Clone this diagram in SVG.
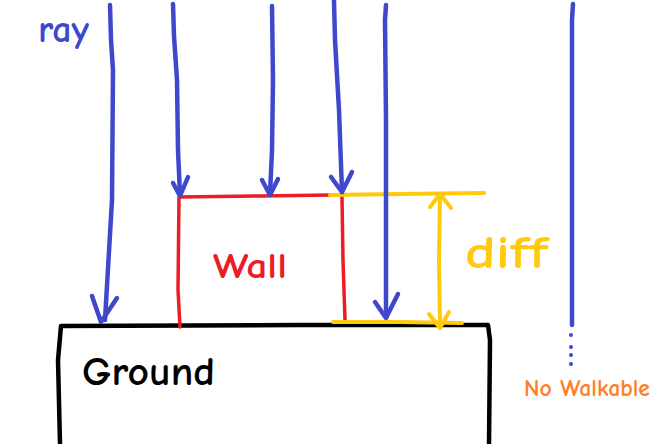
<svg xmlns="http://www.w3.org/2000/svg" width="660" height="444" viewBox="0 0 660 444">
<style>
.ray{fill:none;stroke:#3f48cc;stroke-width:4.5;stroke-linecap:round;stroke-linejoin:round}
.red{fill:none;stroke:#ec1c24;stroke-width:3.5;stroke-linecap:round;stroke-linejoin:round}
.yel{fill:none;stroke:#ffc90e;stroke-width:4;stroke-linecap:round;stroke-linejoin:round}
.blk{fill:none;stroke:#000;stroke-width:4.5;stroke-linecap:round;stroke-linejoin:round}
.lbl{font-family:"Comic Neue","Liberation Sans",sans-serif;font-weight:bold}
</style>
<rect width="660" height="444" fill="#fff"/>
<g id="ground">
<path class="blk" d="M60,444 L58,360 L61,326 L300,325 L488,325 L490,340 L489,444"/>
<text class="lbl" x="82" y="385" font-size="40" fill="#000" textLength="133" lengthAdjust="spacingAndGlyphs">Ground</text>
</g>
<g id="wall">
<path class="red" d="M180,327 L178,290 L179,197 L260,196 L332,195"/>
<path class="red" d="M342,197 L343,260 L345,320"/>
<text class="lbl" x="213" y="278" font-size="36" fill="#ec1c24" textLength="74" lengthAdjust="spacingAndGlyphs">Wall</text>
</g>
<g id="diff">
<path class="yel" d="M330,195 L400,194 L484,193"/>
<path class="yel" d="M333,322 L400,322 L462,323" stroke-width="5"/>
<path class="yel" d="M440,195 L439,260 L440,327"/>
<path class="yel" d="M430,207 L440,194 L451,208"/>
<path class="yel" d="M429,314 L440,328 L449,312"/>
<text class="lbl" x="465" y="268" font-size="46" fill="#ffc90e" textLength="83" lengthAdjust="spacingAndGlyphs">diff</text>
</g>
<g id="labels">
<text class="lbl" x="38" y="42" font-size="38" fill="#3f48cc">ray</text>
<text class="lbl" x="524" y="396" font-size="25" fill="#ff7f27" textLength="126" lengthAdjust="spacingAndGlyphs">No Walkable</text>
</g>
<g id="connectors">
<path class="ray" d="M110,5 L111,40 L113,70 L112,200 L105,320"/>
<path class="ray" d="M92,296 L101,322 L117,298"/>
<path class="ray" d="M173,4 L174,36 L177,80 L178,150 L180,195"/>
<path class="ray" d="M173,183 L180,196 L188,177"/>
<path class="ray" d="M272,6 L273,80 L272,150 L270,194"/>
<path class="ray" d="M262,180 L270,195 L278,179"/>
<path class="ray" d="M334,1 L335,40 L339,110 L342,192"/>
<path class="ray" d="M331,177 L342,192 L352,172"/>
<path class="ray" d="M386,5 L385,20 L386,120 L386,317"/>
<path class="ray" d="M375,302 L386,318 L398,294"/>
<path class="ray" d="M573,4 L572,20 L572,120 L572,325"/>
<g fill="#3f48cc">
<circle cx="571" cy="335" r="2"/>
<circle cx="571" cy="347" r="2"/>
<circle cx="571" cy="355" r="2"/>
<circle cx="571" cy="364" r="2"/>
</g>
</g>
</svg>
